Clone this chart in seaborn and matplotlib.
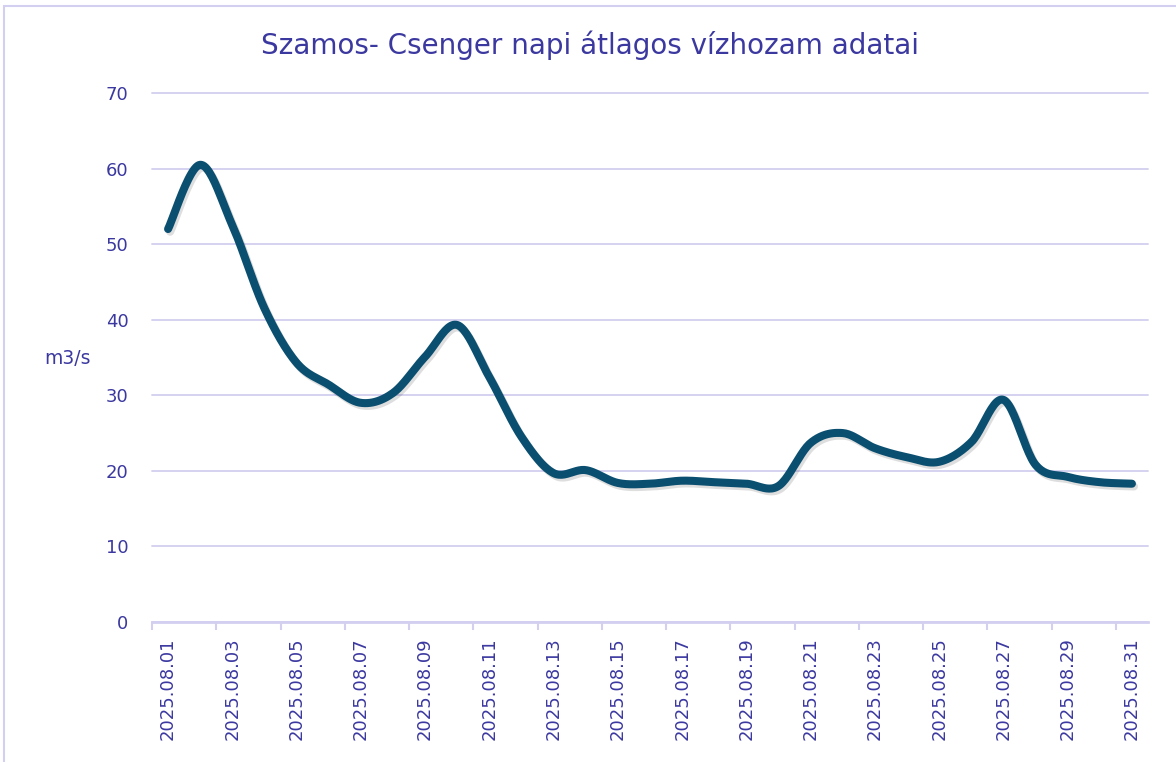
import numpy as np
import pandas as pd
import matplotlib
matplotlib.use("Agg")
import matplotlib.pyplot as plt
import matplotlib.patheffects as pe
from matplotlib.patches import Rectangle
import seaborn as sns

# Daily mean discharge, Szamos at Csenger, August 2025 (m3/s)
dates = [f"2025.08.{d:02d}" for d in range(1, 32)]
discharge = [52.0, 60.5, 52.5, 41.5, 34.3, 31.4, 29.0, 30.3, 35.1, 39.3,
             32.4, 24.5, 19.7, 20.1, 18.4, 18.3, 18.7, 18.5, 18.3, 18.0,
             23.7, 25.0, 23.0, 21.8, 21.2, 23.8, 29.4, 20.8, 19.2, 18.5, 18.3]
y_ticks = [0, 10, 20, 30, 40, 50, 60, 70]

title = "Szamos- Csenger napi átlagos vízhozam adatai"
y_label = "m3/s"

TEXT = "#3b38a0"
GRID = "#d2cff0"
LINE = "#0b4f70"


def smooth_curve(y, samples=24):
    """Cubic Bezier smoothing through every point (Catmull-Rom tangents)."""
    y = np.asarray(y, dtype=float)
    x = np.arange(len(y), dtype=float)
    xp = np.concatenate([[x[0]], x, [x[-1]]])
    yp = np.concatenate([[y[0]], y, [y[-1]]])
    xs, ys = [], []
    t = np.linspace(0, 1, samples, endpoint=False)
    for i in range(len(y) - 1):
        p0 = np.array([xp[i], yp[i]])
        p1 = np.array([xp[i + 1], yp[i + 1]])
        p2 = np.array([xp[i + 2], yp[i + 2]])
        p3 = np.array([xp[i + 3], yp[i + 3]])
        c1 = p1 + (p2 - p0) / 6.0
        c2 = p2 - (p3 - p1) / 6.0
        b = ((1 - t) ** 3)[:, None] * p1 + (3 * (1 - t) ** 2 * t)[:, None] * c1 \
            + (3 * (1 - t) * t ** 2)[:, None] * c2 + (t ** 3)[:, None] * p2
        xs.append(b[:, 0])
        ys.append(b[:, 1])
    xs.append([x[-1]])
    ys.append([y[-1]])
    return np.concatenate(xs), np.concatenate(ys)


sns.set_theme(style="white")
plt.rcParams["font.family"] = ["DejaVu Sans"]

fig = plt.figure(figsize=(11.76, 7.62), dpi=100)
ax = fig.add_axes([152 / 1176, 1 - 622 / 762, (1148 - 152) / 1176, (622 - 93) / 762])

cx, cy = smooth_curve(discharge)
curve = pd.DataFrame({"pos": cx, "value": cy})
sns.lineplot(data=curve, x="pos", y="value", ax=ax, color=LINE, linewidth=5.8,
             sort=False, estimator=None,
             path_effects=[pe.SimpleLineShadow(offset=(1.5, -2), alpha=0.13, shadow_color="black"),
                           pe.Normal()])
ax.lines[-1].set_solid_capstyle("round")

ax.set_xlim(-0.5, len(dates) - 0.5)
ax.set_ylim(0, 70)
ax.set_yticks(y_ticks)
ax.set_yticklabels([str(v) for v in y_ticks], color=TEXT, fontsize=13)
ax.set_xticks(np.arange(0, len(dates), 2))
ax.set_xticklabels(dates[::2], rotation=90, color=TEXT, fontsize=13)
ax.set_xticks(np.arange(-0.5, len(dates), 2), minor=True)
ax.tick_params(axis="x", which="major", length=0, pad=11)
ax.tick_params(axis="x", which="minor", bottom=True, length=6, width=1.5, color=GRID)
ax.tick_params(axis="y", length=0, pad=17)

ax.grid(axis="y", color=GRID, linewidth=1.3)
ax.grid(axis="x", visible=False)
for gl in ax.get_ygridlines():
    gl.set_clip_on(False)
for side in ("left", "right", "top"):
    ax.spines[side].set_visible(False)
ax.spines["bottom"].set_color(GRID)
ax.spines["bottom"].set_linewidth(2)
ax.set_xlabel("")
ax.set_ylabel("")

fig.text(67 / 1176, 1 - 359 / 762, y_label, color=TEXT, fontsize=13.5,
         ha="center", va="center")
fig.text(590 / 1176, 1 - 45 / 762, title, color=TEXT, fontsize=20,
         ha="center", va="center")

# thin frame round the chart area
fig.patches.append(Rectangle((4 / 1176, -0.05), 1.2, 1 - 6 / 762 + 0.05,
                             transform=fig.transFigure, fill=False,
                             edgecolor=GRID, linewidth=1.5))

fig.savefig("out.png", dpi=100)
